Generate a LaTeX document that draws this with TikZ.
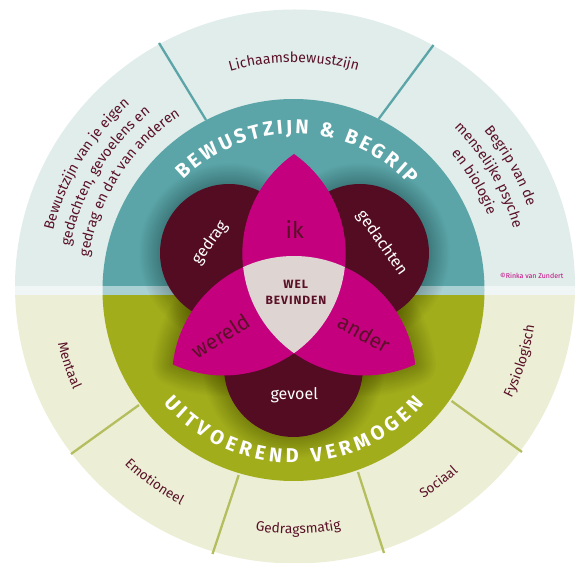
\documentclass[tikz,border=0pt]{standalone}
\usepackage{fontspec}
\setmainfont{Fira Sans}
\usetikzlibrary{decorations.text}
\definecolor{outerT}{HTML}{E0EDEB}
\definecolor{outerB}{HTML}{ECEFD6}
\definecolor{bandO}{HTML}{EFF6F5}
\definecolor{bandI}{HTML}{A9D0D3}
\definecolor{tealc}{HTML}{5BA5A8}
\definecolor{greenc}{HTML}{A2AD1C}
\definecolor{greenl}{HTML}{B5BE5E}
\definecolor{darkc}{HTML}{540C22}
\definecolor{magc}{HTML}{C4007F}
\definecolor{midc}{HTML}{DED4D2}
\definecolor{textc}{HTML}{5A1128}
\tikzset{
  sepT/.style={draw=tealc,line width=2.3pt},
  sepB/.style={draw=greenl,line width=2.3pt},
  lbl/.style={text=#1,inner sep=0pt,font=\fontsize{16}{17}\selectfont},
  softshadow/.style={draw=black,opacity=0.016,line join=round},
}
\newcommand\cwlabel[5]{%
  \pgfmathsetmacro\aa{#1+#3}\pgfmathsetmacro\bb{#1-#3}%
  \path[decorate,decoration={text along path,text align=center,text={|\fontsize{#4}{#4}\selectfont\color{textc}|#5}}]
    (294,273) ++(\aa:#2) arc[start angle=\aa,end angle=\bb,radius=#2];}
\newcommand\ccwlabel[5]{%
  \pgfmathsetmacro\aa{#1-#3}\pgfmathsetmacro\bb{#1+#3}%
  \path[decorate,decoration={text along path,text align=center,text={|\fontsize{#4}{#4}\selectfont\color{textc}|#5}}]
    (294,273) ++(\aa:#2) arc[start angle=\aa,end angle=\bb,radius=#2];}
\newcommand\lensW{(172.8,198.6) arc[start angle=173.6,end angle=65.4,radius=122] arc[start angle=353.6,end angle=245.4,radius=122] -- cycle}
\newcommand\lensA{(415.2,198.6) arc[start angle=6.4,end angle=114.6,radius=122] arc[start angle=186.4,end angle=294.6,radius=122] -- cycle}
\newcommand\lensI{(294,409) arc[start angle=125.2,end angle=234.8,radius=122] arc[start angle=-54.8,end angle=54.8,radius=122] -- cycle}
\begin{document}
\begin{tikzpicture}[x=1pt,y=1pt]
\useasboundingbox (0,0) rectangle (576,563);
\fill[white] (0,0) rectangle (576,563);
% outer disc
\begin{scope}
  \clip (295,276.5) ellipse [x radius=280,y radius=277];
  \fill[outerT] (0,277) rectangle (576,563);
  \fill[bandO] (0,268.3) rectangle (576,277);
  \fill[outerB] (0,0) rectangle (576,268.3);
\end{scope}
% separators
\draw[sepT] (159,520) -- (206,443);
\draw[sepT] (433.5,518) -- (378.6,444);
\draw[sepB] (139,158) -- (71,109);
\draw[sepB] (238.7,88) -- (212.5,9);
\draw[sepB] (358,91) -- (384,10);
\draw[sepB] (451.6,162) -- (522,111);
% inner disc
\begin{scope}
  \clip (293.5,273) circle [radius=191];
  \fill[tealc] (90,277) rectangle (490,470);
  \fill[bandI] (90,268.3) rectangle (490,277);
  \fill[greenc] (90,70) rectangle (490,268.3);
  \foreach \w in {3,6,...,42}{
    \draw[softshadow,line width=\w pt] (229,310) circle [radius=69];
    \draw[softshadow,line width=\w pt] (360,310) circle [radius=69];
    \draw[softshadow,line width=\w pt] (293.5,195.5) circle [radius=69.5];
    \draw[softshadow,line width=\w pt] \lensW;
    \draw[softshadow,line width=\w pt] \lensA;
  }
\end{scope}
% dark circles
\fill[darkc] (229,310) circle [radius=69];
\fill[darkc] (360,310) circle [radius=69];
\fill[darkc] (293.5,195.5) circle [radius=69.5];
% petals
\fill[magc] \lensW;
\fill[magc] \lensA;
\fill[magc] \lensI;
\begin{scope}
  \clip (223.6,309.5) circle [radius=122];
  \clip (364.4,309.5) circle [radius=122];
  \fill[midc] (294,185) circle [radius=122];
\end{scope}
% ring titles
\path[decorate,decoration={text along path,text align=fit to path,
  text={|\fontsize{20}{20}\selectfont\bfseries\color{white}|BEWUSTZIJN {\&} BEGRIP}}]
  (294,273) ++(135:156) arc[start angle=135,end angle=42,radius=156];
\path[decorate,decoration={text along path,text align=fit to path,
  text={|\fontsize{20}{20}\selectfont\bfseries\color{white}|UITVOEREND VERMOGEN}}]
  (294,273) ++(221:173) arc[start angle=221,end angle=319,radius=173];
% outer labels
\cwlabel{90}{228}{30}{14.2}{Lichaamsbewustzijn}
\cwlabel{148.8}{248}{30}{14.2}{Bewustzijn van je eigen}
\cwlabel{149}{228}{32}{14.2}{gedachten, gevoelens en}
\cwlabel{147}{208}{38}{14.2}{gedrag en dat van anderen}
\cwlabel{29.8}{248}{28}{14.2}{Begrip van de}
\cwlabel{30.5}{228}{30}{14.2}{menselijke psyche}
\cwlabel{31}{208}{30}{14.2}{en biologie}
\ccwlabel{198.5}{242}{18}{13.5}{Mentaal}
\ccwlabel{234}{243}{18}{13.5}{Emotioneel}
\ccwlabel{271}{244}{20}{13.8}{Gedragsmatig}
\ccwlabel{307}{245}{18}{13.5}{Sociaal}
\ccwlabel{342.5}{243}{20}{13.8}{Fysiologisch}
% inner labels
\node[lbl=white,rotate=54] (gedrag) at (210,320) {gedrag};
\node[lbl=white,rotate=-55] (gedachten) at (381.7,320) {gedachten};
\node[lbl=white] (gevoel) at (294.3,167.3) {gevoel};
\node[lbl=textc,font=\fontsize{23}{24}\selectfont] (ik) at (294.7,333) {ik};
\node[lbl=textc,rotate=32.5,font=\fontsize{21}{22}\selectfont] (wereld) at (220.7,227) {wereld};
\node[lbl=textc,rotate=-29,font=\fontsize{21}{22}\selectfont] (ander) at (364,229.7) {ander};
\node[lbl=textc,font=\fontsize{12}{12}\selectfont\bfseries\addfontfeature{LetterSpace=8}] (wel) at (295.7,279) {WEL};
\node[lbl=textc,font=\fontsize{12}{12}\selectfont\bfseries\addfontfeature{LetterSpace=8}] (bev) at (296,263) {BEVINDEN};
\node[lbl=magc,anchor=east,font=\fontsize{7}{7}\selectfont] (copy) at (563.5,287) {©Rinka van Zundert};
\end{tikzpicture}
\end{document}
